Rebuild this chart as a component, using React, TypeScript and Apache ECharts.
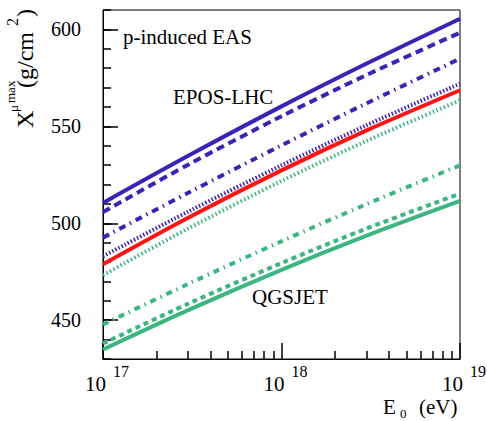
import React, { useEffect, useRef } from 'react';
import * as echarts from 'echarts';

// Primary energy E0 (eV)
const energies = [1e17, 3e17, 1e18, 3e18, 1e19];

// X_mu^max (g/cm^2)
const eposSolid = [510.5, 534.8, 560.3, 582.4, 605.5];
const eposDashed = [505.8, 530.2, 555.2, 576.5, 598.3];
const eposDashDot = [492.6, 515.7, 540.2, 561.9, 584.9];
const eposDotted = [483.0, 506.0, 529.9, 550.6, 572.0];
const redSolid = [478.9, 502.9, 527.3, 547.9, 568.6];
const qgsDotted = [473.2, 497.3, 521.8, 542.5, 563.4];
const qgsDashDot = [447.8, 468.7, 490.7, 509.9, 529.9];
const qgsDashed = [438.0, 458.5, 479.5, 497.3, 515.3];
const qgsSolid = [434.9, 455.2, 476.0, 493.6, 511.5];

// Axis ticks
const yMajorTicks = [450, 500, 550, 600];
const xMajorTicks = [1e17, 1e18, 1e19];
const xTickExponents = ['17', '18', '19'];
const xMinorTicks = [2e17, 3e17, 4e17, 5e17, 6e17, 7e17, 8e17, 9e17, 2e18, 3e18, 4e18, 5e18, 6e18, 7e18, 8e18, 9e18];

const SERIF = 'Liberation Serif, Times New Roman, Times, DejaVu Serif, serif';
const BLUE = '#3b23b5';
const RED = '#ff1414';
const GREEN = '#3db57f';
const TICK = { color: '#000', width: 1.5 };

const seriesDefs = [
  { name: 'EPOS-LHC (a)', values: eposSolid, color: BLUE, type: 'solid' as any, width: 4 },
  { name: 'EPOS-LHC (b)', values: eposDashed, color: BLUE, type: [8, 5], width: 4 },
  { name: 'EPOS-LHC (c)', values: eposDashDot, color: BLUE, type: [7, 5, 1.5, 5], width: 4 },
  { name: 'EPOS-LHC (d)', values: eposDotted, color: BLUE, type: [1.5, 2], width: 4 },
  { name: 'reference', values: redSolid, color: RED, type: 'solid' as any, width: 4 },
  { name: 'QGSJET (d)', values: qgsDotted, color: GREEN, type: [1.5, 2.5], width: 4 },
  { name: 'QGSJET (c)', values: qgsDashDot, color: GREEN, type: [6, 5, 1.5, 5], width: 4 },
  { name: 'QGSJET (b)', values: qgsDashed, color: GREEN, type: [5, 4], width: 4 },
  { name: 'QGSJET (a)', values: qgsSolid, color: GREEN, type: 'solid' as any, width: 4 },
];

function txt(text: string, x: number, y: number, size: number) {
  return {
    type: 'text',
    x,
    y,
    silent: true,
    style: {
      text,
      fill: '#000',
      font: `${size}px ${SERIF}`,
      fontSize: size,
      fontFamily: SERIF,
      align: 'left',
      textAlign: 'left',
      verticalAlign: 'middle',
      textVerticalAlign: 'middle',
    },
  };
}

const lx = (v: number) => Math.log10(v);

export default function App() {
  const ref = useRef<HTMLDivElement>(null);
  useEffect(() => {
    if (!ref.current) return;
    const chart = echarts.init(ref.current, null, { renderer: 'svg' });
    const option: any = {
      animation: false,
      backgroundColor: '#fff',
      textStyle: { fontFamily: SERIF },
      grid: {
        left: 103,
        right: 27,
        top: 10,
        bottom: 62,
        show: true,
        borderColor: '#000',
        borderWidth: 1,
        containLabel: false,
        outerBoundsMode: 'none',
      },
      xAxis: [
        {
          // data axis: E0 on a log scale
          type: 'log',
          logBase: 10,
          min: xMajorTicks[0],
          max: xMajorTicks[xMajorTicks.length - 1],
          position: 'bottom',
          axisLine: { show: false },
          axisTick: { show: false },
          axisLabel: { show: false },
          splitLine: { show: false },
        },
        {
          // decades: major ticks and 10^n labels
          type: 'value',
          min: lx(xMajorTicks[0]),
          max: lx(xMajorTicks[xMajorTicks.length - 1]),
          interval: 1,
          position: 'bottom',
          axisLine: { show: true, onZero: false, lineStyle: { color: '#000', width: 1 } },
          axisTick: { show: true, inside: true, length: 16, lineStyle: TICK },
          splitLine: { show: false },
          axisLabel: {
            show: true,
            margin: 4,
            showMinLabel: true,
            showMaxLabel: true,
            formatter: (v: number) => {
              const i = xMajorTicks.findIndex((t) => Math.abs(lx(t) - v) < 1e-6);
              return i < 0 ? '' : `{b|10}{s|${xTickExponents[i]}}`;
            },
            rich: {
              b: { fontSize: 21, fontFamily: SERIF, color: '#000', lineHeight: 31, verticalAlign: 'bottom', padding: [0, 0, 0, 8] },
              s: { fontSize: 16, fontFamily: SERIF, color: '#000', lineHeight: 16, verticalAlign: 'top', padding: [0, 0, 0, 7] },
            },
          },
        },
        {
          // minor ticks 2..9 within each decade
          type: 'value',
          min: lx(xMajorTicks[0]),
          max: lx(xMajorTicks[xMajorTicks.length - 1]),
          position: 'bottom',
          axisLine: { show: false, onZero: false },
          axisTick: {
            show: true,
            inside: true,
            length: 8,
            customValues: xMinorTicks.map(lx),
            lineStyle: TICK,
          },
          axisLabel: { show: false, customValues: xMinorTicks.map(lx) },
          splitLine: { show: false },
        },
      ],
      yAxis: [
        {
          type: 'value',
          min: 430,
          max: 610,
          position: 'left',
          axisLine: { show: true, onZero: false, lineStyle: { color: '#000', width: 1 } },
          axisTick: { show: true, inside: true, length: 15, customValues: yMajorTicks, lineStyle: TICK },
          axisLabel: { customValues: yMajorTicks, margin: 22, fontSize: 20, fontFamily: SERIF, color: '#000' },
          splitLine: { show: false },
        },
        {
          type: 'value',
          min: 430,
          max: 610,
          interval: 10,
          position: 'left',
          axisLine: { show: false, onZero: false },
          axisTick: { show: true, inside: true, length: 8, lineStyle: TICK },
          axisLabel: { show: false },
          splitLine: { show: false },
        },
      ],
      series: seriesDefs.map((s) => ({
        name: s.name,
        type: 'line',
        xAxisIndex: 0,
        yAxisIndex: 0,
        data: energies.map((e, i) => [e, s.values[i]]),
        showSymbol: false,
        symbol: 'none',
        smooth: 0.3,
        clip: true,
        lineStyle: { color: s.color, width: s.width, type: s.type, cap: 'butt' },
      })),
      graphic: [
        txt('p-induced EAS', 123, 37, 21),
        txt('EPOS-LHC', 173, 97, 21),
        txt('QGSJET', 252, 297, 21),
        txt('E', 383, 407, 21),
        txt('0', 400, 413, 13),
        txt('(eV)', 419, 407, 21),
        {
          type: 'group',
          x: 33,
          y: 128,
          rotation: Math.PI / 2,
          children: [
            txt('X', 0, -8, 24),
            txt('\u03bc', 16, -19.4, 13),
            txt('max', 25, -23, 13),
            txt('(g/cm', 40, -8, 24),
            txt('2', 102, -21, 16),
            txt(')', 111, -8, 24),
          ],
        },
      ],
    };
    chart.setOption(option);
    return () => chart.dispose();
  }, []);
  return (
    <div
      ref={ref}
      style={{ position: 'absolute', left: 0, top: 0, width: 487, height: 421 }}
    />
  );
}
